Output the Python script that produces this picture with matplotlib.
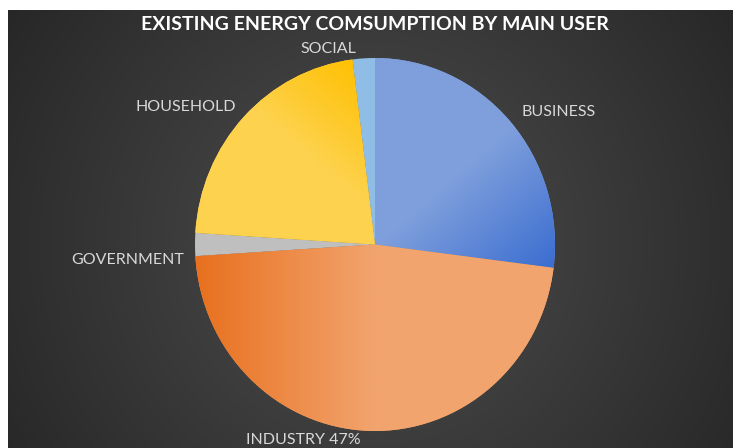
import numpy as np
import matplotlib
matplotlib.use('Agg')
import matplotlib.pyplot as plt
from matplotlib import font_manager as fm
from matplotlib.colors import to_rgb

# ---- data ----
users = ['BUSINESS', 'INDUSTRY', 'GOVERNMENT', 'HOUSEHOLD', 'SOCIAL']
shares = [27, 47, 2, 22, 2]
label_text = ['BUSINESS', 'INDUSTRY 47%', 'GOVERNMENT', 'HOUSEHOLD', 'SOCIAL']
title = 'EXISTING ENERGY COMSUMPTION BY MAIN USER'

# ---- styling ----
base_colors = ['#7b9cdb', '#f09a5a', '#bfbfbf', '#fdd04a', '#8fbde6']
# linear gradients: (start point, end point, start colour, end colour) in pie coords
gradients = {
    0: ((0.53, 0.43), (1.0, -0.13), '#7f9fdc', '#3a6dd0'),
    1: ((-1.0, 0.0), (0.0, 0.0), '#e8701e', '#f2a46e'),
    3: ((-0.47, 0.56), (-0.11, 1.0), '#fdd24e', '#ffc000'),
}
# label anchors in pie coords, alignments
label_pos = [(1.02, 0.71, 'center', 'center'), (-0.40, -1.086, 'center', 'bottom'),
             (-1.06, -0.083, 'right', 'center'), (-1.05, 0.737, 'center', 'center'),
             (-0.26, 1.048, 'center', 'center')]


def pick(fams):
    for f in fams:
        try:
            fm.findfont(fm.FontProperties(family=f), fallback_to_default=False)
            return f
        except ValueError:
            pass
    return 'DejaVu Sans'


font = pick(['Liberation Sans Narrow', 'Lato', 'Open Sans', 'DejaVu Sans'])

W, H = 733, 448
fig = plt.figure(figsize=(W / 100, H / 100), dpi=100, facecolor='white')

# dark radial background (white strip on top/left as in the source image)
bg = fig.add_axes([8 / W, 0, (W - 8) / W, (H - 10) / H])
X, Y = np.meshgrid(np.arange(8, W) + 0.5, np.arange(10, H) + 0.5)
d = np.hypot(X - 375, Y - 244)
v = np.clip((78 - 39 * d / 435) / 255, 0, 1)
bg.imshow(np.dstack([v, v, v]), aspect='auto', interpolation='bilinear')
bg.axis('off')

# pie axes: centre (375, 244.5) px, radii 180 x 186.5 px
cx, cy, rx, ry = 375, 244.5, 180, 186.5
lim = 1.3
ax = fig.add_axes([(cx - lim * rx) / W, (H - cy - lim * ry) / H,
                   2 * lim * rx / W, 2 * lim * ry / H])
ax.patch.set_visible(False)

wedges, _ = ax.pie(shares, colors=base_colors, startangle=90, counterclock=False,
                   wedgeprops=dict(linewidth=0))

n = 500
gx, gy = np.meshgrid(np.linspace(-1, 1, n), np.linspace(-1, 1, n))
for i, (p0, p1, c0, c1) in gradients.items():
    p0 = np.array(p0)
    dv = np.array(p1) - p0
    t = ((gx - p0[0]) * dv[0] + (gy - p0[1]) * dv[1]) / (dv ** 2).sum()
    t = np.clip(t, 0, 1)[..., None]
    img = (1 - t) * np.array(to_rgb(c0)) + t * np.array(to_rgb(c1))
    im = ax.imshow(img, extent=(-1, 1, -1, 1), origin='lower', aspect='auto',
                   interpolation='bilinear', zorder=wedges[i].get_zorder() + 0.1)
    im.set_clip_path(wedges[i])

ax.set_aspect('auto')
ax.set_xlim(-lim, lim)
ax.set_ylim(-lim, lim)
ax.axis('off')

for txt, (x, y, ha, va) in zip(label_text, label_pos):
    ax.text(x, y, txt, ha=ha, va=va, color='#d9d9d9',
            fontsize=11.5, family=font)

fig.text(cx / W, 1 - 25 / H, title, ha='center', va='center', color='white',
         fontsize=14, fontweight='bold', family=font)

plt.savefig('out.png', dpi=100, facecolor='white')
